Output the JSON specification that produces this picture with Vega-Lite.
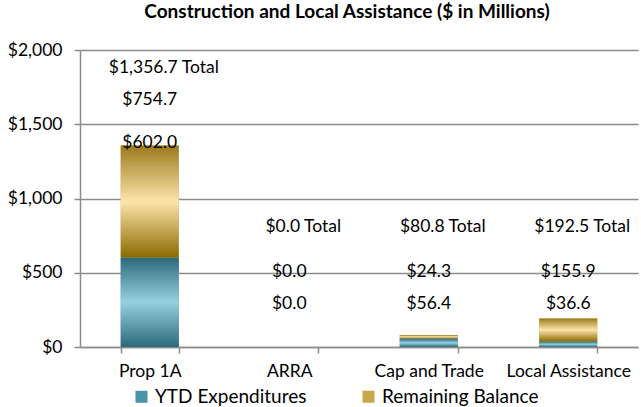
{
  "$schema": "https://vega.github.io/schema/vega-lite/v6.json",
  "width": 558,
  "height": 297,
  "autosize": {"type": "none"},
  "padding": {"left": 80, "top": 50, "right": 3, "bottom": 60},
  "title": {
    "text": "Construction and Local Assistance ($ in Millions)",
    "font": "Lato",
    "fontSize": 19,
    "fontWeight": "bold",
    "color": "#000000",
    "anchor": "middle",
    "dx": -12,
    "offset": 19
  },
  "config": {
    "font": "Lato",
    "view": {"stroke": null},
    "axis": {
      "labelFont": "Lato",
      "labelFontSize": 17.5,
      "labelColor": "#000000",
      "domainColor": "#8c8c8c",
      "domainWidth": 1.5,
      "tickColor": "#8c8c8c",
      "tickWidth": 1.5,
      "gridColor": "#8c8c8c",
      "gridWidth": 1.5,
      "title": null
    }
  },
  "data": {
    "values": [
      {"category": "Prop 1A", "YTD Expenditures": 602.0, "Remaining Balance": 754.7, "total": 1356.7},
      {"category": "ARRA", "YTD Expenditures": 0.0, "Remaining Balance": 0.0, "total": 0.0},
      {"category": "Cap and Trade", "YTD Expenditures": 56.4, "Remaining Balance": 24.3, "total": 80.8},
      {"category": "Local Assistance", "YTD Expenditures": 36.6, "Remaining Balance": 155.9, "total": 192.5}
    ]
  },
  "encoding": {
    "x": {
      "field": "category",
      "type": "nominal",
      "sort": ["Prop 1A", "ARRA", "Cap and Trade", "Local Assistance"],
      "scale": {"paddingInner": 0.584, "paddingOuter": 0.292},
      "axis": {"labelAngle": 0, "tickBand": "extent", "tickSize": 6, "labelPadding": 9, "grid": false}
    }
  },
  "layer": [
    {
      "transform": [{"fold": ["YTD Expenditures", "Remaining Balance"], "as": ["series", "value"]}],
      "mark": {"type": "bar"},
      "encoding": {
        "y": {
          "field": "value",
          "type": "quantitative",
          "stack": "zero",
          "scale": {"domain": [0, 2000]},
          "axis": {
            "values": [0, 500, 1000, 1500, 2000],
            "labelExpr": "'$' + format(datum.value, ',')",
            "grid": true,
            "tickSize": 6,
            "labelPadding": 12
          }
        },
        "color": {
          "field": "series",
          "type": "nominal",
          "scale": {"domain": ["YTD Expenditures", "Remaining Balance"], "range": ["#4a93a8", "#c9a849"]},
          "legend": {
            "title": null,
            "orient": "none",
            "legendX": 52,
            "legendY": 337,
            "direction": "horizontal",
            "symbolType": "square",
            "symbolSize": 144,
            "symbolStrokeWidth": 0,
            "labelFontSize": 19,
            "labelColor": "#000000",
            "labelOffset": 4,
            "columnPadding": 52
          }
        },
        "order": {"field": "series", "sort": "descending"}
      }
    },
    {
      "transform": [{"fold": ["YTD Expenditures", "Remaining Balance"], "as": ["series", "value"]}],
      "mark": {"type": "bar"},
      "encoding": {
        "y": {"field": "value", "type": "quantitative", "stack": "zero"},
        "detail": {"field": "series"},
        "order": {"field": "series", "sort": "descending"},
        "fill": {
          "condition": {
            "test": "datum.series === 'YTD Expenditures'",
            "value": {
              "gradient": "linear", "x1": 0, "y1": 0, "x2": 0, "y2": 1,
              "stops": [
                {"offset": 0, "color": "#2b6a7b"},
                {"offset": 0.5, "color": "#95d0df"},
                {"offset": 1, "color": "#2b6a7b"}
              ]
            }
          },
          "value": {
            "gradient": "linear", "x1": 0, "y1": 0, "x2": 0, "y2": 1,
            "stops": [
              {"offset": 0, "color": "#9a7a1c"},
              {"offset": 0.5, "color": "#fde4aa"},
              {"offset": 1, "color": "#8b6a00"}
            ]
          }
        }
      }
    },
    {
      "transform": [
        {"calculate": "max(datum.total + 15, 290)", "as": "ytdPos"},
        {"calculate": "'$' + format(datum['YTD Expenditures'], ',.1f')", "as": "ytdText"}
      ],
      "mark": {"type": "text", "fontSize": 17.5, "color": "#000000", "baseline": "middle"},
      "encoding": {
        "y": {"field": "ytdPos", "type": "quantitative"},
        "text": {"field": "ytdText"}
      }
    },
    {
      "transform": [
        {"calculate": "max(datum.total + 306, 505)", "as": "remPos"},
        {"calculate": "'$' + format(datum['Remaining Balance'], ',.1f')", "as": "remText"}
      ],
      "mark": {"type": "text", "fontSize": 17.5, "color": "#000000", "baseline": "middle"},
      "encoding": {
        "y": {"field": "remPos", "type": "quantitative"},
        "text": {"field": "remText"}
      }
    },
    {
      "transform": [
        {"calculate": "max(datum.total + 522, 808)", "as": "totPos"},
        {"calculate": "'$' + format(datum.total, ',.1f') + ' Total'", "as": "totText"}
      ],
      "mark": {"type": "text", "fontSize": 17.5, "color": "#000000", "baseline": "middle", "dx": 14},
      "encoding": {
        "y": {"field": "totPos", "type": "quantitative"},
        "text": {"field": "totText"}
      }
    }
  ]
}
